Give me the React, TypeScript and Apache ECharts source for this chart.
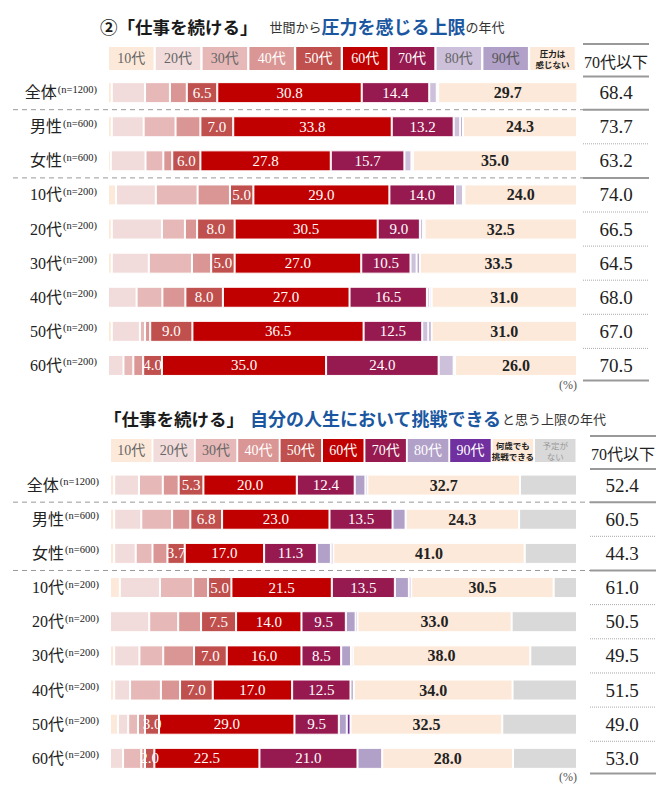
import React, { useEffect, useRef } from "react";
import * as echarts from "echarts";

// ---------- DATA ----------
const rowLabels = ["全体", "男性", "女性", "10代", "20代", "30代", "40代", "50代", "60代"];
const rowN = ["n=1200", "n=600", "n=600", "n=200", "n=200", "n=200", "n=200", "n=200", "n=200"];

// chart 1: 世間から圧力を感じる上限の年代
const pressureCats = ["10代", "20代", "30代", "40代", "50代", "60代", "70代", "80代", "90代", "圧力は感じない"];
const pAll = [0.8, 7.1, 5.3, 3.6, 6.5, 30.8, 14.4, 1.6, 0.3, 29.7];
const pMale = [0.8, 6.8, 6.8, 5.3, 7.0, 33.8, 13.2, 1.4, 0.6, 24.3];
const pFemale = [0.6, 7.4, 3.8, 1.9, 6.0, 27.8, 15.7, 1.5, 0.3, 35.0];
const p10s = [1.7, 8.5, 8.9, 6.9, 5.0, 29.0, 14.0, 1.7, 0.3, 24.0];
const p20s = [0.8, 10.7, 4.9, 2.6, 8.0, 30.5, 9.0, 0.7, 0.3, 32.5];
const p30s = [0.8, 7.9, 9.2, 4.1, 5.0, 27.0, 10.5, 1.3, 0.7, 33.5];
const p40s = [0, 6.1, 5.5, 4.9, 8.0, 27.0, 16.5, 0.6, 0.4, 31.0];
const p50s = [0.8, 6.0, 1.1, 1.1, 9.0, 36.5, 12.5, 1.3, 0.7, 31.0];
const p60s = [0, 3.3, 2.1, 2.1, 4.0, 35.0, 24.0, 3.2, 0.3, 26.0];
const pressureRows = [pAll, pMale, pFemale, p10s, p20s, p30s, p40s, p50s, p60s];
const pressureUpTo70 = [68.4, 73.7, 63.2, 74.0, 66.5, 64.5, 68.0, 67.0, 70.5];

// chart 2: 自分の人生において挑戦できると思う上限の年代
const challengeCats = ["10代", "20代", "30代", "40代", "50代", "60代", "70代", "80代", "90代", "何歳でも挑戦できる", "予定がない"];
const cAll = [0.9, 5.3, 5.1, 3.4, 5.3, 20.0, 12.4, 2.3, 0.4, 32.7, 12.2];
const cMale = [0.9, 5.8, 6.6, 3.9, 6.8, 23.0, 13.5, 2.8, 0, 24.3, 12.4];
const cFemale = [0.9, 4.6, 3.6, 3.2, 3.7, 17.0, 11.3, 3.0, 0.5, 41.0, 11.2];
const c10s = [2.1, 8.6, 7.1, 3.2, 5.0, 21.5, 13.5, 3.0, 0.5, 30.5, 5.0];
const c20s = [0, 8.4, 6.2, 4.9, 7.5, 14.0, 9.5, 2.1, 0.4, 33.0, 14.0];
const c30s = [0.9, 5.4, 5.1, 6.6, 7.0, 16.0, 8.5, 2.1, 0.4, 38.0, 10.0];
const c40s = [0.9, 3.4, 6.6, 4.1, 7.0, 17.0, 12.5, 0.7, 0, 34.0, 13.8];
const c50s = [1.7, 2.2, 2.1, 1.5, 3.0, 29.0, 9.5, 1.7, 0.8, 32.5, 16.0];
const c60s = [0, 2.8, 3.9, 0.8, 2.0, 22.5, 21.0, 5.3, 0, 28.0, 13.7];
const challengeRows = [cAll, cMale, cFemale, c10s, c20s, c30s, c40s, c50s, c60s];
const challengeUpTo70 = [52.4, 60.5, 44.3, 61.0, 50.5, 49.5, 51.5, 49.0, 53.0];

// ---------- STYLE ----------
const pressureColors = ["#fde9d9", "#f2dcdb", "#e6b8b7", "#da9694", "#c0504d", "#c00000", "#961a50", "#ccc0da", "#b1a0c7", "#fde9d9"];
const pressureLegendText = ["#666", "#666", "#666", "#fff", "#fff", "#fff", "#fff", "#666", "#555", "#222"];
const challengeColors = ["#fde9d9", "#f2dcdb", "#e6b8b7", "#da9694", "#c0504d", "#c00000", "#961a50", "#b1a0c7", "#7030a0", "#fde9d9", "#d9d9d9"];
const challengeLegendText = ["#666", "#666", "#666", "#fff", "#fff", "#fff", "#fff", "#fff", "#fff", "#222", "#999"];

const SERIF = "'Liberation Serif', 'Noto Sans CJK JP', serif";
const JP = "'Noto Sans CJK JP', sans-serif";

const G1 = { left: 108, right: 577, top: 75.6, band: 34.1 };
const G2 = { left: 110, right: 577, top: 468, band: 34.16 };
const N = rowLabels.length;

function App() {
  const ref = useRef<HTMLDivElement>(null);

  useEffect(() => {
    if (!ref.current) return;
    const chart = echarts.init(ref.current, undefined, { renderer: "svg" });

    const grids = [G1, G2];
    const datasets = [pressureRows, challengeRows];
    const catsList = [pressureCats, challengeCats];
    const colorsList = [pressureColors, challengeColors];
    const colVals = [pressureUpTo70, challengeUpTo70];
    const colMargin = [39, 45];

    const series: any[] = [];
    datasets.forEach((rows, g) => {
      const cats = catsList[g];
      cats.forEach((cat, k) => {
        const white = k >= 4 && k <= 6;
        const dark = k === 9;
        series.push({
          type: "bar",
          name: `${g}-${cat}`,
          stack: `s${g}`,
          xAxisIndex: g,
          yAxisIndex: g * 2,
          barWidth: 21,
          data: rows.map((r) => r[k]),
          itemStyle: { color: colorsList[g][k], borderColor: "#fff", borderWidth: 1 },
          label: {
            show: white || dark,
            position: "inside",
            formatter: (p: any) => (p.value > 0 ? Number(p.value).toFixed(1) : ""),
            color: white ? "#fff" : "#222",
            fontFamily: SERIF,
            fontWeight: dark ? "bold" : "normal",
            fontSize: dark ? 16 : 15,
          },
          emphasis: { disabled: true },
        });
      });
    });

    const gridOpts = grids.map((gr) => ({
      left: gr.left,
      right: 670 - gr.right,
      top: gr.top,
      height: gr.band * N,
    }));

    const xAxes = grids.map((_, g) => ({
      type: "value",
      gridIndex: g,
      min: 0,
      max: 100,
      show: false,
    }));

    const yAxes: any[] = [];
    grids.forEach((_, g) => {
      yAxes.push({
        type: "category",
        gridIndex: g,
        data: rowLabels,
        inverse: true,
        axisLine: { show: false },
        axisTick: { show: false },
        axisLabel: {
          margin: 11,
          formatter: (v: string, i: number) => `{a|${v}}{b|(${rowN[i]})}`,
          rich: {
            a: { fontSize: 16, fontFamily: SERIF, color: "#222" },
            b: { fontSize: 10.5, fontFamily: SERIF, color: "#222", padding: [0, 0, 7, 1] },
          },
        },
      });
      yAxes.push({
        type: "category",
        gridIndex: g,
        data: rowLabels,
        inverse: true,
        position: "right",
        axisLine: { show: false },
        axisTick: { show: false },
        axisLabel: {
          margin: colMargin[g],
          align: "center",
          formatter: (_v: string, i: number) => colVals[g][i].toFixed(1),
          fontSize: 19,
          fontFamily: SERIF,
          color: "#222",
          padding: [6, 0, 0, 0],
        },
      });
    });

    const graphic: any[] = [];

    // titles
    graphic.push({
      type: "text",
      x: 100,
      y: 26,
      style: {
        text: "{a|②「仕事を続ける」}{s|世間から}{b|圧力を感じる上限}{t|の年代}",
        verticalAlign: "middle",
        rich: {
          a: { fontSize: 17.5, fontWeight: "bold", fontFamily: JP, fill: "#1a1a1a" },
          s: { fontSize: 13, fontFamily: JP, fill: "#333", padding: [0, 0, 0, 12] },
          b: { fontSize: 18, fontWeight: "bold", fontFamily: JP, fill: "#1b57a0" },
          t: { fontSize: 13, fontFamily: JP, fill: "#333" },
        },
      },
    });
    graphic.push({
      type: "text",
      x: 104,
      y: 418,
      style: {
        text: "{a|「仕事を続ける」}{b|自分の人生において挑戦できる}{t|と思う上限の年代}",
        verticalAlign: "middle",
        rich: {
          a: { fontSize: 17.5, fontWeight: "bold", fontFamily: JP, fill: "#1a1a1a" },
          b: { fontSize: 18, fontWeight: "bold", fontFamily: JP, fill: "#1b57a0", padding: [0, 0, 0, 6] },
          t: { fontSize: 13, fontFamily: JP, fill: "#333" },
        },
      },
    });

    // legends
    const legendSpecs = [
      { cats: pressureCats, colors: pressureColors, txt: pressureLegendText, x0: 109, pitch: 46.8, w: 44.5, y: 47, h: 23 },
      { cats: challengeCats, colors: challengeColors, txt: challengeLegendText, x0: 111, pitch: 42.4, w: 40.5, y: 439, h: 23 },
    ];
    legendSpecs.forEach((L) => {
      L.cats.forEach((c, k) => {
        const x = L.x0 + k * L.pitch;
        graphic.push({ type: "rect", shape: { x, y: L.y, width: L.w, height: L.h }, style: { fill: L.colors[k] } });
        const long = c.length > 3;
        if (long) {
          let lines = [c, ""];
          if (c === "圧力は感じない") lines = ["圧力は", "感じない"];
          if (c === "何歳でも挑戦できる") lines = ["何歳でも", "挑戦できる"];
          if (c === "予定がない") lines = ["予定が", "ない"];
          lines.forEach((ln, li) => {
            graphic.push({
              type: "text",
              x: x + L.w / 2,
              y: L.y + 6 + li * 11,
              style: {
                text: ln,
                align: "center",
                verticalAlign: "middle",
                fill: L.txt[k],
                fontFamily: JP,
                fontSize: 8.5,
                fontWeight: c !== "予定がない" ? "bold" : "normal",
              },
            });
          });
        } else {
          graphic.push({
            type: "text",
            x: x + L.w / 2,
            y: L.y + L.h / 2,
            style: {
              text: c,
              align: "center",
              verticalAlign: "middle",
              fill: L.txt[k],
              fontFamily: SERIF,
              fontSize: 14,
            },
          });
        }
      });
    });

    // right column headers and lines
    const colSpecs = [
      { x1: 583, x2: 649, topLine: 44, headY: 62, grid: G1 },
      { x1: 590, x2: 656, topLine: 436, headY: 454, grid: G2 },
    ];
    colSpecs.forEach((C) => {
      const gr = C.grid;
      graphic.push({ type: "line", shape: { x1: C.x1, y1: C.topLine, x2: C.x2, y2: C.topLine }, style: { stroke: "#999", lineWidth: 2 } });
      graphic.push({
        type: "text",
        x: (C.x1 + C.x2) / 2,
        y: C.headY,
        style: { text: "70代以下", align: "center", verticalAlign: "middle", fontFamily: SERIF, fontSize: 16, fill: "#222" },
      });
      graphic.push({ type: "line", shape: { x1: C.x1, y1: gr.top + 1, x2: C.x2, y2: gr.top + 1 }, style: { stroke: "#999", lineWidth: 2 } });
      for (let i = 1; i <= N; i++) {
        const y = gr.top + gr.band * i - (i === N ? 2 : 0);
        const solid = i === 1 || i === 3 || i === N;
        graphic.push({
          type: "line",
          shape: { x1: C.x1, y1: y, x2: C.x2, y2: y },
          style: solid ? { stroke: "#999", lineWidth: 2 } : { stroke: "#aaa", lineWidth: 1, lineDash: [1, 1] },
        });
      }
      // dashed separators across the chart
      [1, 3].forEach((i) => {
        const y = gr.top + gr.band * i;
        graphic.push({
          type: "line",
          shape: { x1: 13, y1: y, x2: C.x1, y2: y },
          style: { stroke: "#999", lineWidth: 1, lineDash: [5, 4] },
        });
      });
      graphic.push({
        type: "text",
        x: 577,
        y: gr.top + gr.band * N + 2,
        style: { text: "(%)", align: "right", verticalAlign: "middle", fontFamily: SERIF, fontSize: 12, fill: "#555" },
      });
    });

    chart.setOption({
      animation: false,
      grid: gridOpts,
      xAxis: xAxes,
      yAxis: yAxes,
      series,
      graphic,
    });

    return () => chart.dispose();
  }, []);

  return (
    <div
      ref={ref}
      style={{ position: "fixed", left: 0, top: 0, width: 670, height: 790, background: "#fff" }}
    />
  );
}

export default App;
